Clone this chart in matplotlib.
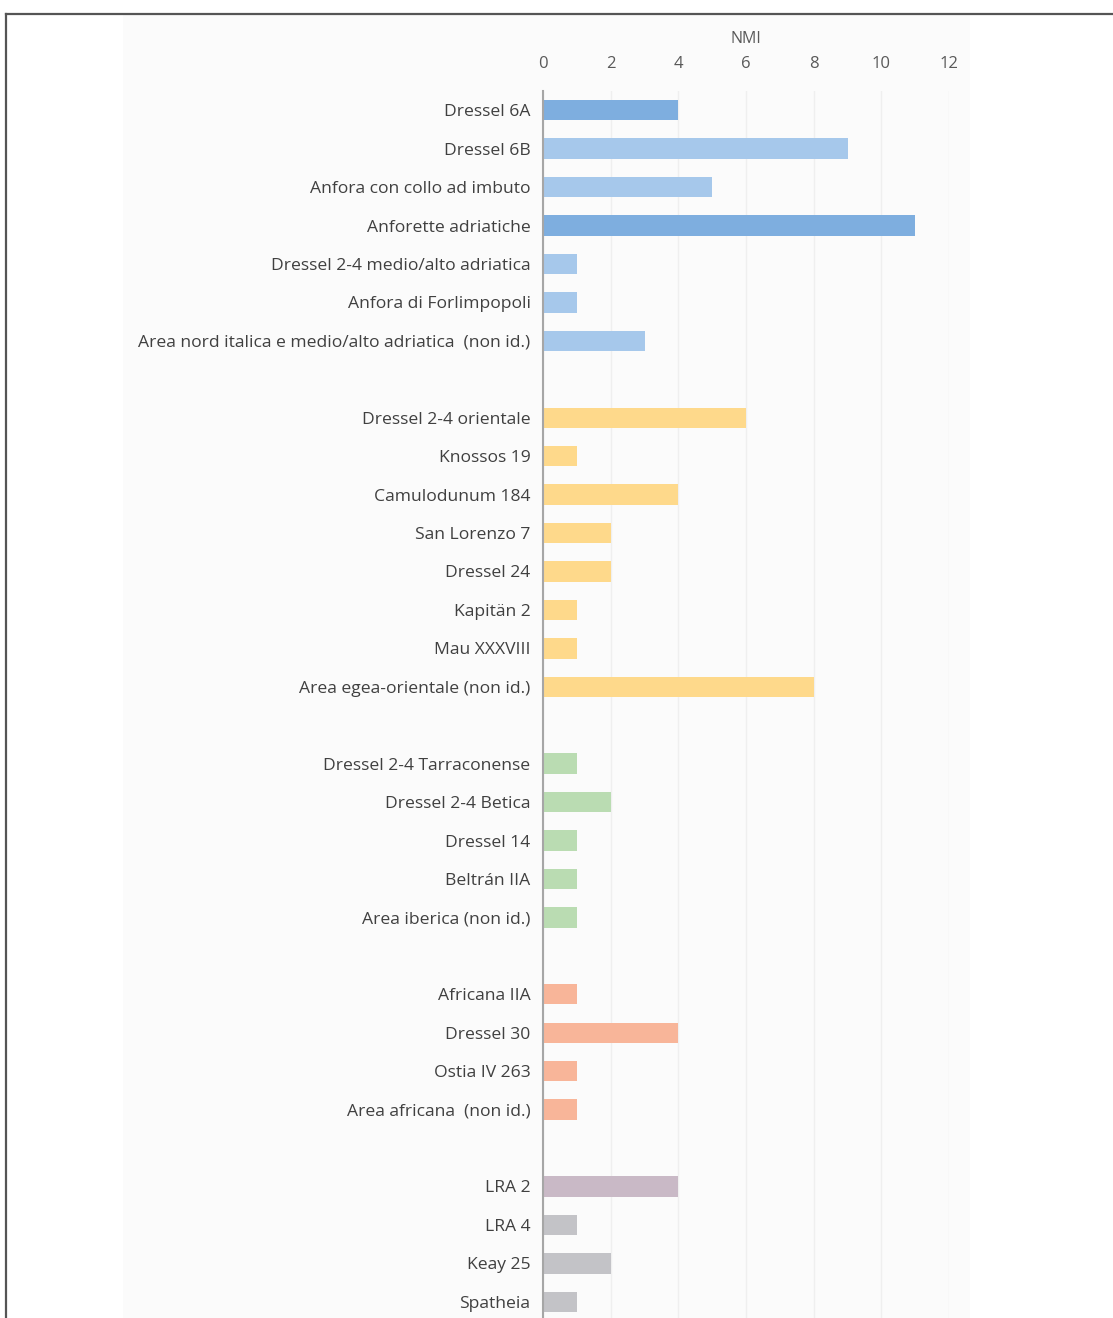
#!/usr/bin/env python3
"""NMI per tipo di anfora, barre orizzontali raggruppate per area di produzione."""
import matplotlib
matplotlib.use("Agg")
import matplotlib.pyplot as plt
from matplotlib.lines import Line2D
from matplotlib.patches import Rectangle

plt.rcParams["font.family"] = ["Open Sans", "DejaVu Sans"]

# groups: (labels, values, colours)
adriatic_labels = ["Dressel 6A", "Dressel 6B", "Anfora con collo ad imbuto",
                   "Anforette adriatiche", "Dressel 2-4 medio/alto adriatica",
                   "Anfora di Forlimpopoli",
                   "Area nord italica e medio/alto adriatica  (non id.)"]
adriatic_values = [4, 9, 5, 11, 1, 1, 3]

eastern_labels = ["Dressel 2-4 orientale", "Knossos 19", "Camulodunum 184",
                  "San Lorenzo 7", "Dressel 24", "Kapitän 2", "Mau XXXVIII",
                  "Area egea-orientale (non id.)"]
eastern_values = [6, 1, 4, 2, 2, 1, 1, 8]

iberian_labels = ["Dressel 2-4 Tarraconense", "Dressel 2-4 Betica", "Dressel 14",
                  "Beltrán IIA", "Area iberica (non id.)"]
iberian_values = [1, 2, 1, 1, 1]

african_labels = ["Africana IIA", "Dressel 30", "Ostia IV 263",
                  "Area africana  (non id.)"]
african_values = [1, 4, 1, 1]

late_labels = ["LRA 2", "LRA 4", "Keay 25", "Spatheia"]
late_values = [4, 1, 2, 1]

BLUE_D, BLUE_L = "#7eaedf", "#a6c8eb"
adriatic_colors = [BLUE_D, BLUE_L, BLUE_L, BLUE_D, BLUE_L, BLUE_L, BLUE_L]
eastern_colors = ["#fed98b"] * len(eastern_labels)
iberian_colors = ["#badcb2"] * len(iberian_labels)
african_colors = ["#f8b599"] * len(african_labels)
late_colors = ["#c9b9c6", "#c3c3c7", "#c3c3c7", "#c3c3c7"]

GROUPS = [
    (adriatic_labels, adriatic_values, adriatic_colors),
    (eastern_labels, eastern_values, eastern_colors),
    (iberian_labels, iberian_values, iberian_colors),
    (african_labels, african_values, african_colors),
    (late_labels, late_values, late_colors),
]

W, H = 1113, 1318
fig = plt.figure(figsize=(W / 100, H / 100), dpi=100)

# page background panel and frame
fig.add_artist(Rectangle((123 / W, 0), (970 - 123) / W, 1 - 14 / H,
                         transform=fig.transFigure, fc="#fbfbfb", ec="none", zorder=0))
fig.add_artist(Line2D([6 / W, 6 / W], [0, 1 - 14 / H], transform=fig.transFigure,
                      color="#555555", lw=1.6))
fig.add_artist(Line2D([6 / W, 1], [1 - 14 / H, 1 - 14 / H], transform=fig.transFigure,
                      color="#555555", lw=1.6))

x0, x1 = 543, 949
top, bot = 91, 1321
ax = fig.add_axes([x0 / W, 1 - bot / H, (x1 - x0) / W, (bot - top) / H])
ax.patch.set_alpha(0)

labels, ypos = [], []
slot = 0
for glabels, gvalues, gcolors in GROUPS:
    for lab, val, col in zip(glabels, gvalues, gcolors):
        ax.barh(slot, val, height=0.53, color=col, zorder=3)
        labels.append(lab)
        ypos.append(slot)
        slot += 1
    slot += 1  # empty row between groups
nslots = slot - 1

ax.set_ylim(nslots - 0.5, -0.5)
ax.set_yticks(ypos)
ax.set_yticklabels(labels)
ax.set_xlim(0, 12)
ax.set_xticks(range(0, 13, 2))
ax.xaxis.tick_top()
ax.xaxis.set_label_position("top")
ax.set_xlabel("NMI", fontsize=11.5, color="#595959", labelpad=9)
ax.tick_params(axis="x", length=0, labelsize=12, labelcolor="#595959", pad=14)
ax.tick_params(axis="y", length=0, labelsize=12.6, labelcolor="#404040", pad=9)
ax.grid(axis="x", color="#efefef", lw=1.0, zorder=0)
for s in ("top", "right", "bottom"):
    ax.spines[s].set_visible(False)
ax.spines["left"].set_color("#a6a6a6")
ax.spines["left"].set_linewidth(1.5)
ax.spines["left"].set_zorder(4)

fig.savefig("out.png", dpi=100)
